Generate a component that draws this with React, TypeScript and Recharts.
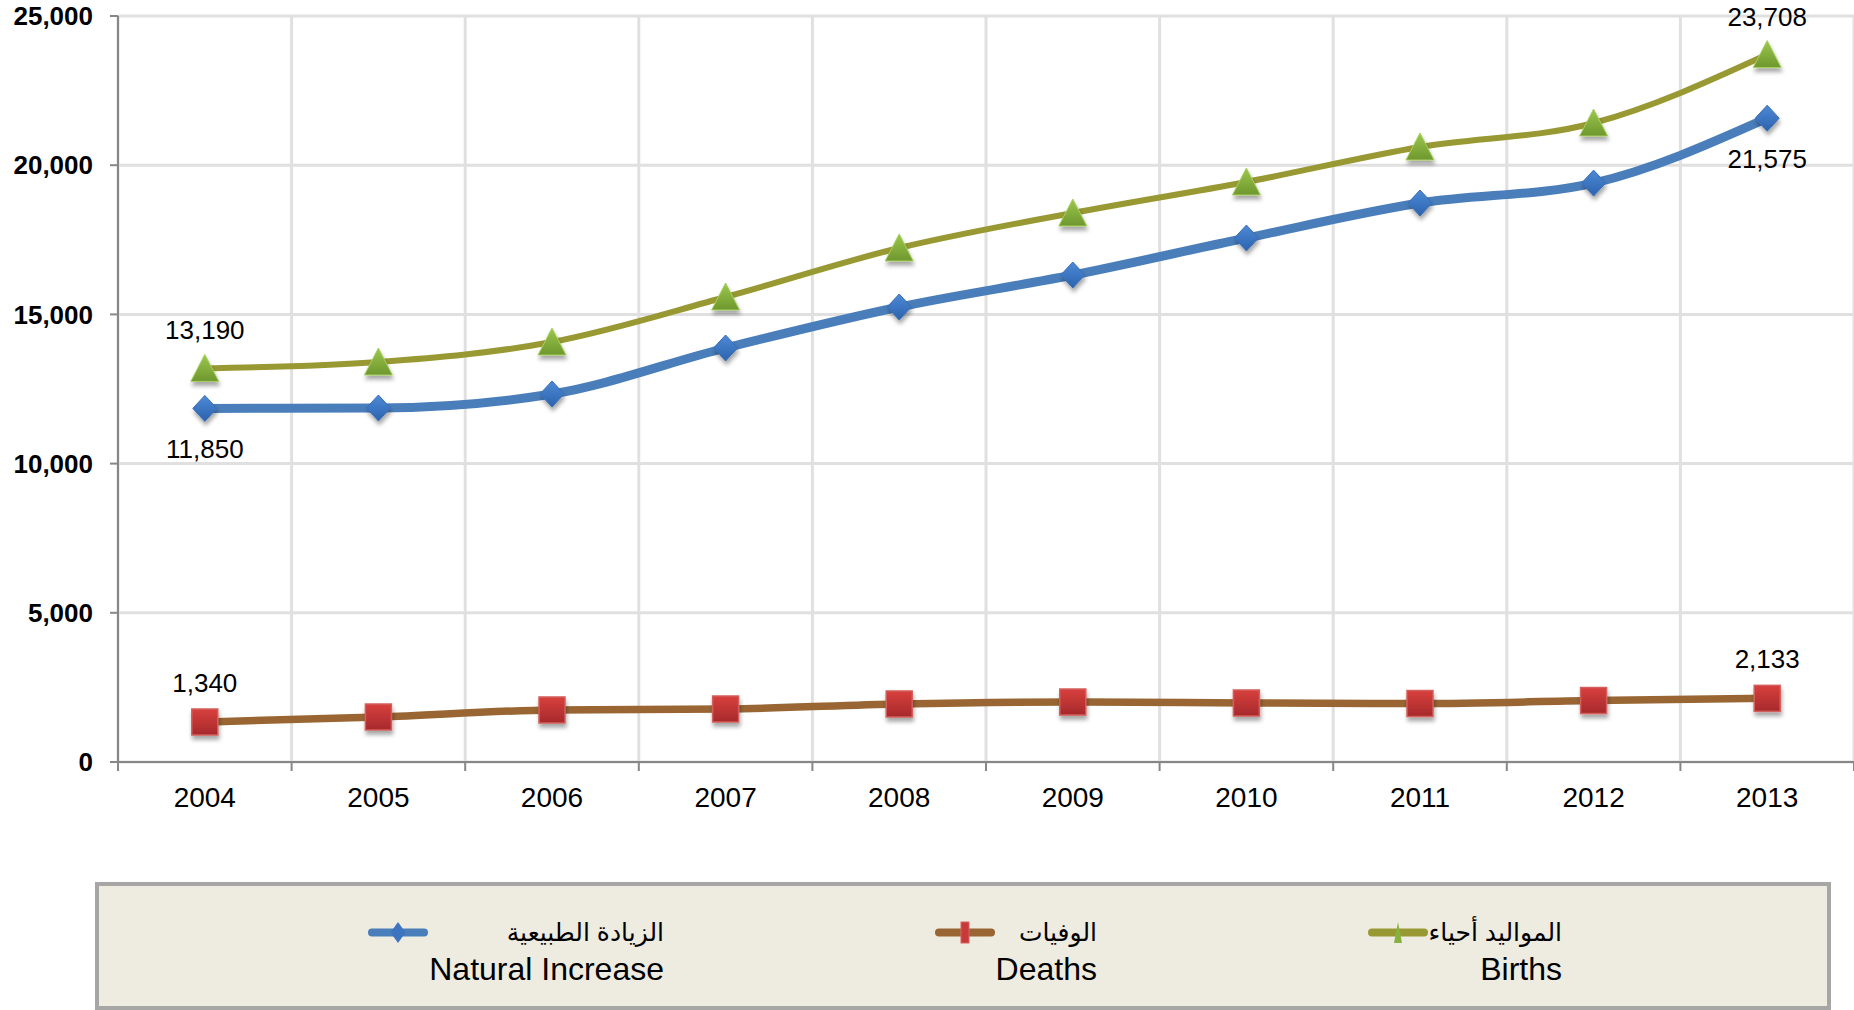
import React from "react";
import { CartesianGrid, LabelList, Line, LineChart, XAxis, YAxis } from "recharts";

const years = [2004, 2005, 2006, 2007, 2008, 2009, 2010, 2011, 2012, 2013];
const births = [13190, 13405, 14075, 15583, 17225, 18398, 19437, 20610, 21414, 23708];
const deaths = [1340, 1508, 1743, 1776, 1944, 2010, 1977, 1960, 2060, 2133];
const naturalIncrease = [11850, 11863, 12332, 13874, 15248, 16320, 17560, 18733, 19400, 21575];

const yTicks = [0, 5000, 10000, 15000, 20000, 25000];
const boundaryTicks = [2003.5, 2004.5, 2005.5, 2006.5, 2007.5, 2008.5, 2009.5, 2010.5, 2011.5, 2012.5, 2013.5];

const legendItems = [
  { key: "natural", ar: "الزيادة الطبيعية", en: "Natural Increase", color: "#4a7ebb", right: 664, marker: "diamond" },
  { key: "deaths", ar: "الوفيات", en: "Deaths", color: "#996633", right: 1097, marker: "square" },
  { key: "births", ar: "المواليد أحياء", en: "Births", color: "#999933", right: 1562, marker: "triangle" },
];

const data = years.map((year, i) => ({
  year,
  births: births[i],
  deaths: deaths[i],
  natural: naturalIncrease[i],
}));

const FONT = "Arial, 'Liberation Sans', 'DejaVu Sans', sans-serif";
const fmt = (v: number) => Number(v).toLocaleString("en-US");

const renderDiamond = (props: any) => {
  const { cx, cy, index } = props;
  if (cx == null || cy == null) return <g key={`nd-${index}`} />;
  return (
    <path
      key={`nd-${index}`}
      d={`M${cx},${cy - 13} L${cx + 12},${cy} L${cx},${cy + 13} L${cx - 12},${cy} Z`}
      fill="url(#gradBlue)"
      stroke="#3a6fb5"
      strokeWidth={1}
      filter="url(#markerShadow)"
    />
  );
};

const renderSquare = (props: any) => {
  const { cx, cy, index } = props;
  if (cx == null || cy == null) return <g key={`dd-${index}`} />;
  return (
    <rect
      key={`dd-${index}`}
      x={cx - 13}
      y={cy - 13}
      width={26}
      height={26}
      fill="url(#gradRed)"
      stroke="#d35f5b"
      strokeWidth={1.5}
      filter="url(#markerShadow)"
    />
  );
};

const renderTriangle = (props: any) => {
  const { cx, cy, index } = props;
  if (cx == null || cy == null) return <g key={`bd-${index}`} />;
  return (
    <path
      key={`bd-${index}`}
      d={`M${cx},${cy - 14} L${cx + 14},${cy + 13} L${cx - 14},${cy + 13} Z`}
      fill="url(#gradGreen)"
      stroke="#a8cf60"
      strokeWidth={1}
      filter="url(#markerShadow)"
    />
  );
};

const endLabel = (dy: number) => (props: any) => {
  const { index, value } = props;
  if (index !== 0 && index !== years.length - 1) return null;
  const x = props.x ?? props.viewBox?.x;
  const y = props.y ?? props.viewBox?.y;
  return (
    <text
      key={`lbl-${index}-${dy}`}
      x={x}
      y={y + dy}
      textAnchor="middle"
      dominantBaseline="central"
      fontSize={26}
      fontFamily={FONT}
      fill="#000"
    >
      {fmt(value)}
    </text>
  );
};

function LegendSymbol({ color, marker }: { color: string; marker: string }) {
  return (
    <svg width={62} height={37} style={{ display: "block" }}>
      <line x1={5} y1={18.5} x2={57} y2={18.5} stroke={color} strokeWidth={8} strokeLinecap="round" />
      {marker === "diamond" && (
        <path d="M31,8 L38.5,18.5 L31,29 L23.5,18.5 Z" fill="#3c74c0" />
      )}
      {marker === "square" && <rect x={27} y={8} width={8} height={21} fill="#c8393a" stroke="#d96360" strokeWidth={1} />}
      {marker === "triangle" && <path d="M31,8 L35,29 L27,29 Z" fill="#86b23e" />}
    </svg>
  );
}

function ChartLegend() {
  return (
    <div
      style={{
        position: "absolute",
        left: 95,
        top: 882,
        width: 1736,
        height: 128,
        boxSizing: "border-box",
        border: "4px solid #a6a6a6",
        background: "#eeece1",
      }}
    >
      {legendItems.map((item) => (
        <div
          key={item.key}
          style={{
            position: "absolute",
            right: 1827 - item.right,
            top: 28,
            display: "flex",
            alignItems: "flex-start",
          }}
        >
          <LegendSymbol color={item.color} marker={item.marker} />
          <div style={{ textAlign: "right", fontFamily: FONT, color: "#000" }}>
            <div style={{ fontSize: 25, lineHeight: "37px", height: 37 }}>{item.ar}</div>
            <div style={{ fontSize: 32, lineHeight: "37px", height: 37 }}>{item.en}</div>
          </div>
        </div>
      ))}
    </div>
  );
}

export default function App() {
  return (
    <div
      style={{
        position: "absolute",
        left: 0,
        top: 0,
        width: 1854,
        height: 1010,
        background: "#ffffff",
        overflow: "hidden",
        fontFamily: FONT,
      }}
    >
      <LineChart width={1854} height={842} data={data} margin={{ top: 16, right: 0, left: 0, bottom: 0 }}>
        <defs>
          <linearGradient id="gradBlue" x1="0" y1="0" x2="0" y2="1">
            <stop offset="0%" stopColor="#4d8ad6" />
            <stop offset="100%" stopColor="#2c62ae" />
          </linearGradient>
          <linearGradient id="gradRed" x1="0" y1="0" x2="0" y2="1">
            <stop offset="0%" stopColor="#d8403d" />
            <stop offset="100%" stopColor="#a6292b" />
          </linearGradient>
          <linearGradient id="gradGreen" x1="0" y1="0" x2="0" y2="1">
            <stop offset="0%" stopColor="#9cc74c" />
            <stop offset="100%" stopColor="#6e972e" />
          </linearGradient>
          <filter id="markerShadow" x="-50%" y="-50%" width="200%" height="200%">
            <feDropShadow dx={1} dy={4} stdDeviation={2} floodColor="#000" floodOpacity={0.35} />
          </filter>
        </defs>
        <CartesianGrid xAxisId="grid" stroke="#e0e0e0" strokeWidth={3} />
        <XAxis
          xAxisId="grid"
          dataKey="year"
          type="number"
          domain={[2003.5, 2013.5]}
          ticks={boundaryTicks}
          interval={0}
          tickFormatter={() => ""}
          height={10}
          tickSize={9}
          axisLine={{ stroke: "#878787", strokeWidth: 2 }}
          tickLine={{ stroke: "#878787", strokeWidth: 2 }}
        />
        <XAxis
          xAxisId="labels"
          dataKey="year"
          type="number"
          domain={[2003.5, 2013.5]}
          ticks={years}
          interval={0}
          height={70}
          axisLine={false}
          tickLine={false}
          tickMargin={9}
          tick={{ fill: "#000", fontSize: 28, fontFamily: FONT }}
        />
        <YAxis
          domain={[0, 25000]}
          ticks={yTicks}
          interval={0}
          width={118}
          tickSize={8}
          tickMargin={17}
          axisLine={{ stroke: "#878787", strokeWidth: 2 }}
          tickLine={{ stroke: "#878787", strokeWidth: 2 }}
          tick={{ fill: "#000", fontSize: 26, fontWeight: 700, fontFamily: FONT }}
          tickFormatter={(v) => fmt(v)}
        />
        <Line
          xAxisId="grid"
          type="monotone"
          dataKey="natural"
          stroke="#4a7ebb"
          strokeWidth={9}
          dot={renderDiamond}
          activeDot={false}
          isAnimationActive={false}
        >
          <LabelList dataKey="natural" content={endLabel(41)} />
        </Line>
        <Line
          xAxisId="grid"
          type="monotone"
          dataKey="deaths"
          stroke="#996633"
          strokeWidth={7.5}
          dot={renderSquare}
          activeDot={false}
          isAnimationActive={false}
        >
          <LabelList dataKey="deaths" content={endLabel(-39)} />
        </Line>
        <Line
          xAxisId="grid"
          type="monotone"
          dataKey="births"
          stroke="#999933"
          strokeWidth={6}
          dot={renderTriangle}
          activeDot={false}
          isAnimationActive={false}
        >
          <LabelList dataKey="births" content={endLabel(-38)} />
        </Line>
      </LineChart>
      <ChartLegend />
    </div>
  );
}
